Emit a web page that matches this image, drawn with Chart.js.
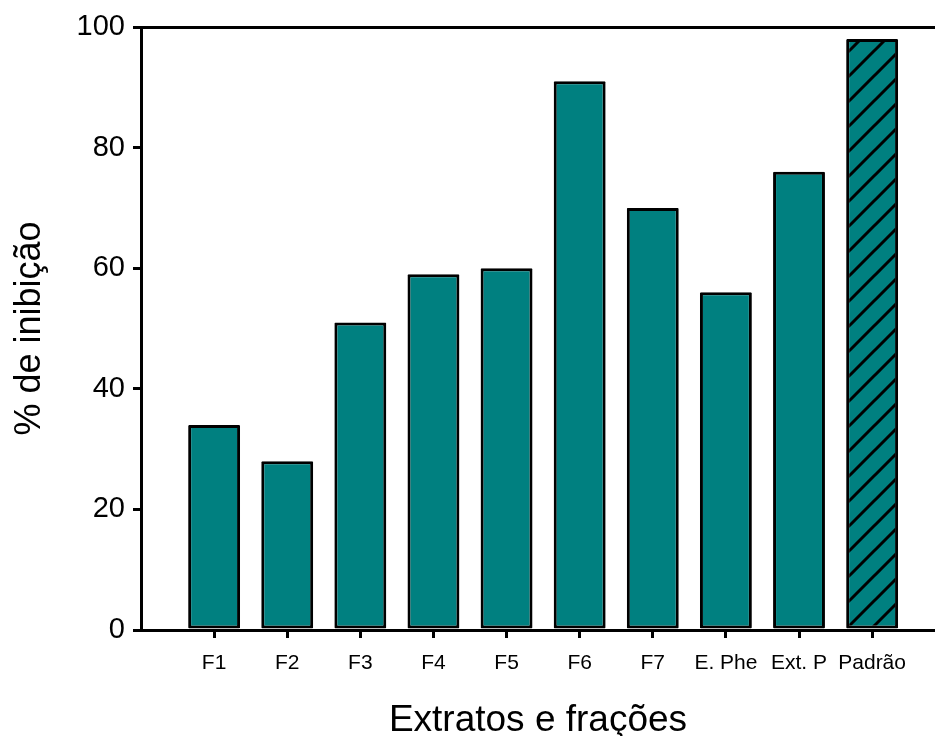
<!DOCTYPE html>
<html>
<head>
<meta charset="utf-8">
<script src="https://cdn.jsdelivr.net/npm/chart.js@4/dist/chart.umd.min.js"></script>
<style>
  html, body { margin: 0; padding: 0; background: #ffffff; }
  #wrap { width: 935px; height: 736px; }
</style>
</head>
<body>
<div id="wrap"><canvas id="c" width="935" height="736"></canvas></div>
<script>
// Extracts and fractions, percent inhibition
const categories = ['F1', 'F2', 'F3', 'F4', 'F5', 'F6', 'F7', 'E. Phe', 'Ext. P', 'Padrão'];
const inhibition = [34, 28, 51, 59, 60, 91, 70, 56, 76, 98];
const yTicks = [0, 20, 40, 60, 80, 100];
const standardLabel = 'Padrão';

const TEAL = 'rgb(0,128,128)';
const FONT = '"Liberation Sans", Arial, Helvetica, sans-serif';

// Diagonal hatch fill for the reference standard
function makeHatch() {
  const s = 25;
  const c = document.createElement('canvas');
  c.width = s; c.height = s;
  const g = c.getContext('2d');
  g.fillStyle = TEAL;
  g.fillRect(0, 0, s, s);
  g.strokeStyle = '#000';
  g.lineWidth = 3;
  g.beginPath();
  g.moveTo(-5, s + 5); g.lineTo(s + 5, -5);
  g.moveTo(-5, 5); g.lineTo(5, -5);
  g.moveTo(s - 5, s + 5); g.lineTo(s + 5, s - 5);
  g.stroke();
  return g.createPattern(c, 'repeat');
}
const hatch = makeHatch();

const points = inhibition.map((v, i) => ({ x: i + 1, y: v }));
const stdIndex = categories.indexOf(standardLabel);

new Chart(document.getElementById('c'), {
  type: 'bar',
  data: {
    datasets: [{
      data: points,
      backgroundColor: ctx => ctx.dataIndex === stdIndex ? hatch : TEAL,
      borderColor: '#000',
      borderWidth: 3,
      borderSkipped: false,
      borderRadius: 1,
      barPercentage: 0.71,
      categoryPercentage: 1.0
    }]
  },
  options: {
    responsive: false,
    animation: false,
    devicePixelRatio: 1,
    layout: { padding: { top: 27, right: 0, bottom: 0, left: 0 } },
    plugins: { legend: { display: false }, tooltip: { enabled: false } },
    scales: {
      x: {
        type: 'linear',
        min: 0,
        max: 10.86,
        offset: false,
        afterBuildTicks: s => { s.ticks = categories.map((_, i) => ({ value: i + 1 })); },
        afterFit: s => { s.height = 106; },
        border: { display: true, color: '#000', width: 3 },
        grid: {
          display: true,
          offset: false,
          drawOnChartArea: false,
          drawTicks: true,
          tickLength: 8,
          tickColor: '#000',
          tickWidth: 3
        },
        ticks: {
          autoSkip: false,
          maxRotation: 0,
          padding: 13,
          color: '#000',
          font: { family: FONT, size: 21 },
          callback: v => categories[Math.round(v) - 1] ?? ''
        },
        title: {
          display: true,
          text: 'Extratos e frações',
          color: '#000',
          font: { family: FONT, size: 37, lineHeight: 0.8 },
          padding: { top: 0, bottom: 0 }
        }
      },
      y: {
        min: 0,
        max: 100,
        afterBuildTicks: s => { s.ticks = yTicks.map(v => ({ value: v })); },
        afterFit: s => { s.width = 141; s.paddingTop = 10; },
        border: { display: true, color: '#000', width: 3 },
        grid: {
          display: true,
          drawOnChartArea: true,
          drawTicks: true,
          tickLength: 8,
          tickColor: '#000',
          tickWidth: 3,
          color: ctx => (ctx.tick && ctx.tick.value === 100) ? '#000' : 'rgba(0,0,0,0)',
          lineWidth: 3
        },
        ticks: {
          padding: 8,
          color: '#000',
          font: { family: FONT, size: 29 }
        },
        title: {
          display: true,
          text: '% de inibição',
          color: '#000',
          font: { family: FONT, size: 36, lineHeight: 1 },
          padding: { top: 12, bottom: 0 }
        }
      }
    }
  }
});
</script>
</body>
</html>
